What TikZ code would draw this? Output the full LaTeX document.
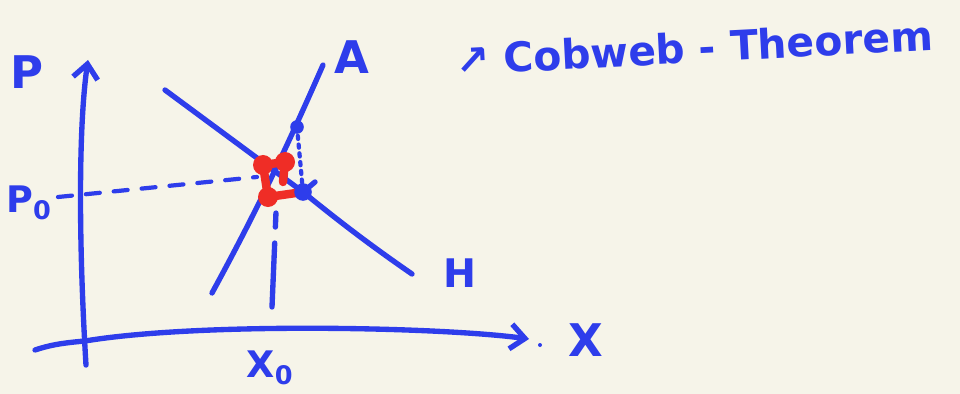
\documentclass[tikz,border=0pt]{standalone}
\usepackage{fontspec}
\setmainfont{DejaVu Sans}
\usepackage{tikz}
\usetikzlibrary{arrows.meta,positioning,calc}
\definecolor{ink}   {HTML}{2E3DEB}
\definecolor{marker}{HTML}{EF2D26}
\definecolor{paper} {HTML}{F6F4E9}
\tikzset{
  pen/.style={draw=ink, line width=3.8pt, line cap=round, line join=round},
  redpen/.style={draw=marker, line width=6pt, line cap=round, line join=round},
  hand/.style={font=\bfseries\fontsize{32}{36}\selectfont, color=ink, inner sep=0pt},
  axisarrow/.style={-{Straight Barb[length=0.36cm,width=0.62cm]}}
}

\begin{document}
\begin{tikzpicture}[x=0.025cm,y=-0.025cm]
  \fill[paper] (0,0) rectangle (960,394);
  \useasboundingbox (0,0) rectangle (960,394);

  \coordinate (yaxis0) at (86,365);
  \coordinate (yaxis1) at (88,60);
  \coordinate (xaxis0) at (35,350);
  \coordinate (xaxis1) at (529,339);
  \coordinate (dem0)   at (165,90);
  \coordinate (dem1)   at (412,274);
  \coordinate (sup0)   at (212,293);
  \coordinate (sup1)   at (323,65);
  \coordinate (E)      at (303,192);
  \coordinate (S)      at (297,127);
  \coordinate (q0)     at (272,307);
  \coordinate (q1)     at (276,212);
  \coordinate (p0)     at (58,197);
  \coordinate (p1)     at (257,177);
  \coordinate (c1)     at (268,197);
  \coordinate (c2)     at (263,165);
  \coordinate (c3)     at (285,162);
  \coordinate (c4)     at (283,182);

  \node[hand] (P)  at (27,72)  {P};
  \node[hand] (A)  at (352,57) {A};
  \node[hand, font=\bfseries\fontsize{28}{32}\selectfont] (H) at (460,273) {H};
  \node[hand] (X)  at (586,340) {X};
  \node[hand, font=\bfseries\fontsize{26}{30}\selectfont] (P0) at (29,203) {P\textsubscript{0}};
  \node[hand, font=\bfseries\fontsize{26}{30}\selectfont] (X0) at (270,368) {X\textsubscript{0}};
  \node[hand, font=\bfseries\fontsize{29}{34}\selectfont, anchor=west, rotate=3] (title) at (455,60)
    {↗ Cobweb - Theorem};

  \draw[pen, axisarrow] (yaxis0) .. controls (79,250) and (78,130) .. (yaxis1);
  \draw[pen, axisarrow] (xaxis0) .. controls (50,345) and (62,343) .. (85,341)
    .. controls (200,322) and (440,327) .. (xaxis1);
  \fill[ink] (540,345) circle[radius=0.05cm];

  \draw[pen] (dem0) -- (E) .. controls (340,222) and (370,245) .. (dem1);
  \draw[pen] (sup0) .. controls (260,205) and (290,140) .. (sup1);
  \draw[pen, line width=3pt, dash pattern=on 0.35cm off 0.35cm] (p0) -- (p1);
  \draw[pen, dash pattern=on 1.6cm off 0.4cm on 0.35cm off 2cm] (q0) -- (q1);
  \draw[pen, line width=3pt, dash pattern=on 0.08cm off 0.14cm] (S) -- (E);

  \draw[redpen] (E) -- (c1) -- (c2) -- (c3) -- (c4);
  \foreach \c in {c1,c2,c3}
    \fill[marker] (\c) circle[radius=0.25cm];

  \fill[ink] (S) circle[radius=0.17cm];
  \fill[ink] (E) circle[radius=0.22cm];
  \draw[pen] (E) -- ++(12,-10);
\end{tikzpicture}
\end{document}
